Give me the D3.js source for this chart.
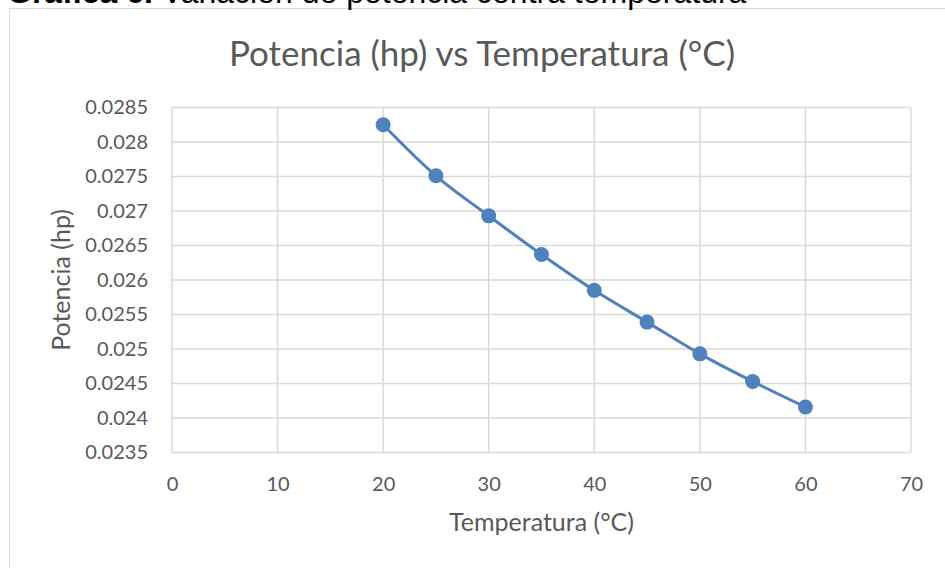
<!DOCTYPE html>
<html><head><meta charset="utf-8">
<script src="https://cdn.jsdelivr.net/npm/d3@7"></script>
<style>body{margin:0;background:#fff;} svg{display:block;}</style>
</head><body>
<svg id="c" width="945" height="568"></svg>
<script>
const temperatures = [20, 25, 30, 35, 40, 45, 50, 55, 60];
const potencia = [0.02825, 0.02751, 0.02693, 0.02637, 0.02585, 0.02539, 0.02493, 0.02453, 0.02416];
const xTicks = [0, 10, 20, 30, 40, 50, 60, 70];
const yTicks = [0.0235, 0.024, 0.0245, 0.025, 0.0255, 0.026, 0.0265, 0.027, 0.0275, 0.028, 0.0285];
const chartTitle = "Potencia (hp) vs Temperatura (°C)";
const xTitle = "Temperatura (°C)";
const yTitle = "Potencia (hp)";

const svg = d3.select("#c");
const font = "Lato, 'Open Sans', sans-serif";
const grid = "#d9d9d9", txt = "#595959", blue = "#4f81bd";

// chart frame
svg.append("rect").attr("x", 9.5).attr("y", 8.5).attr("width", 960).attr("height", 600)
  .attr("fill", "#fff").attr("stroke", grid).attr("stroke-width", 1);

// caption (cut off at top in the reference)
const cap = svg.append("text").attr("x", 7).attr("y", 3)
  .attr("font-family", "'Liberation Sans', Arial, sans-serif").attr("font-size", 32).attr("fill", "#000");
cap.append("tspan").attr("font-weight", "bold").text("Gráfica 6.");
cap.append("tspan").text(" Variación de potencia contra temperatura");

const x = d3.scaleLinear().domain([0, 70]).range([172, 911]);
const y = d3.scaleLinear().domain([0.0235, 0.0285]).range([452.5, 107.5]);

const g = svg.append("g");
g.selectAll(".hg").data(yTicks).join("line")
  .attr("x1", x(0)).attr("x2", x(70)).attr("y1", d => y(d)).attr("y2", d => y(d))
  .attr("stroke", grid).attr("stroke-width", 1.5);
g.selectAll(".vg").data(xTicks).join("line")
  .attr("x1", d => x(d)).attr("x2", d => x(d)).attr("y1", y(0.0285)).attr("y2", y(0.0235))
  .attr("stroke", grid).attr("stroke-width", 1.5);

const yAxis = d3.axisLeft(y).tickValues(yTicks).tickSize(0).tickPadding(24)
  .tickFormat(d => String(+d.toFixed(4)));
const ya = svg.append("g").attr("transform", `translate(${x(0)},0)`).call(yAxis);
ya.select(".domain").remove();
ya.attr("font-family", font).attr("font-size", 20);
ya.selectAll("text").attr("fill", txt);

const xAxis = d3.axisBottom(x).tickValues(xTicks).tickSize(0).tickPadding(24).tickFormat(d3.format("d"));
const xa = svg.append("g").attr("transform", `translate(0,${y(0.0235)})`).call(xAxis);
xa.select(".domain").remove();
xa.attr("font-family", font).attr("font-size", 20);
xa.selectAll("text").attr("fill", txt);

const line = d3.line().x((d, i) => x(temperatures[i])).y(d => y(d)).curve(d3.curveCatmullRom.alpha(0.5));
svg.append("path").datum(potencia).attr("d", line).attr("fill", "none")
  .attr("stroke", blue).attr("stroke-width", 3).attr("stroke-linecap", "round");
svg.selectAll(".pt").data(potencia).join("circle")
  .attr("cx", (d, i) => x(temperatures[i])).attr("cy", d => y(d)).attr("r", 7.5).attr("fill", blue);

svg.append("text").attr("x", 482).attr("y", 66).attr("text-anchor", "middle")
  .attr("font-family", font).attr("font-size", 35).attr("fill", txt).text(chartTitle);
svg.append("text").attr("x", x(35)).attr("y", 531).attr("text-anchor", "middle")
  .attr("font-family", font).attr("font-size", 25).attr("fill", txt).text(xTitle);
svg.append("text").attr("transform", `translate(70,280) rotate(-90)`).attr("text-anchor", "middle")
  .attr("font-family", font).attr("font-size", 25).attr("fill", txt).text(yTitle);
</script>
</body></html>
